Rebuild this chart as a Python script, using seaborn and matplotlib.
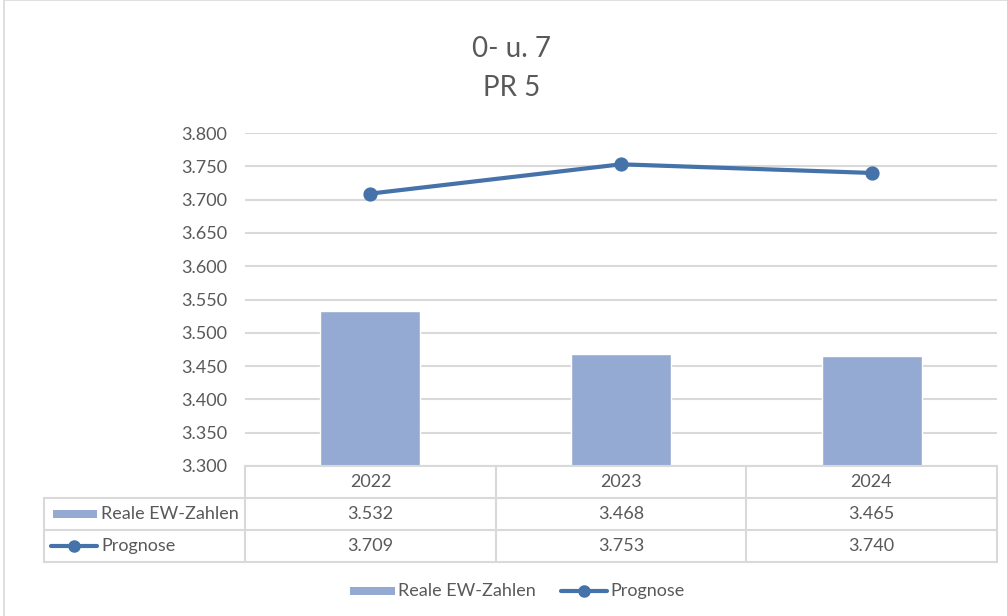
import matplotlib
matplotlib.use("Agg")
import matplotlib.pyplot as plt
import seaborn as sns
import pandas as pd
from matplotlib.lines import Line2D
from matplotlib.patches import Rectangle

# ---- data ----
years = ["2022", "2023", "2024"]
reale = [3532, 3468, 3465]
prognose = [3709, 3753, 3740]
yticks = [3300, 3350, 3400, 3450, 3500, 3550, 3600, 3650, 3700, 3750, 3800]
title_lines = ["0- u. 7", "PR 5"]
series_names = ["Reale EW-Zahlen", "Prognose"]

BAR = "#95AAD3"
LINE = "#4572A9"
TXT = "#595959"
GRID = "#D9D9D9"
FONT = ["Lato", "DejaVu Sans"]
FS = 13

sns.set_theme(style="white")
plt.rcParams["font.family"] = FONT

W, H = 1007, 616
fig = plt.figure(figsize=(W / 100, H / 100), dpi=100)


def fx(x):
    return x / W


def fy(y):
    return 1 - y / H


# chart border
fig.add_artist(Rectangle((fx(4), fy(700)), fx(1100), 700 / H, fill=False,
                         edgecolor=GRID, linewidth=1.2, transform=fig.transFigure))

# plot area
L, R, T, B = 245, 997, 133, 466
ax = fig.add_axes([fx(L), fy(B), fx(R - L), (B - T) / H])

df = pd.DataFrame({"Jahr": years, "Reale": reale, "Prognose": prognose})
sns.barplot(data=df, x="Jahr", y="Reale", ax=ax, color=BAR, width=0.4,
            saturation=1, zorder=2)
sns.pointplot(data=df, x="Jahr", y="Prognose", ax=ax, color=LINE,
              markers="o", markersize=8, linewidth=3, zorder=3)

ax.set_ylim(yticks[0], yticks[-1])
ax.set_xlim(-0.5, 2.5)
ax.set_yticks(yticks)
ax.set_yticklabels([f"{v/1000:.3f}" for v in yticks], color=TXT, fontsize=FS)
ax.tick_params(axis="y", length=0, pad=13)
ax.set_xticks([])
ax.set_xlabel("")
ax.set_ylabel("")
ax.grid(axis="y", color=GRID, linewidth=1.5, zorder=0)
ax.set_axisbelow(True)
for s in ["top", "right", "left"]:
    ax.spines[s].set_visible(False)
ax.spines["bottom"].set_color(GRID)
ax.spines["bottom"].set_linewidth(1.5)

# title
fig.text(fx(512), fy(49), title_lines[0], ha="center", va="center",
         fontsize=20, color=TXT)
fig.text(fx(512), fy(88), title_lines[1], ha="center", va="center",
         fontsize=20, color=TXT)

# ---- data table ----
cols = [245, 496, 746, 997]
rows = [466, 498, 530, 562]
lw = 1.5


def hline(x0, x1, y):
    fig.add_artist(Line2D([fx(x0), fx(x1)], [fy(y), fy(y)], color=GRID,
                          linewidth=lw, transform=fig.transFigure))


def vline(x, y0, y1):
    fig.add_artist(Line2D([fx(x), fx(x)], [fy(y0), fy(y1)], color=GRID,
                          linewidth=lw, transform=fig.transFigure))


for y in rows[1:]:
    hline(44, 997, y)
for x in cols:
    vline(x, 466, 562)
vline(44, 498, 562)

centers = [(cols[i] + cols[i + 1]) / 2 for i in range(3)]
for i, yr in enumerate(years):
    fig.text(fx(centers[i]), fy(482), yr, ha="center", va="center",
             fontsize=FS, color=TXT)
    fig.text(fx(centers[i]), fy(514), f"{reale[i]/1000:.3f}", ha="center",
             va="center", fontsize=FS, color=TXT)
    fig.text(fx(centers[i]), fy(546), f"{prognose[i]/1000:.3f}", ha="center",
             va="center", fontsize=FS, color=TXT)


def bar_key(x0, x1, y):
    fig.add_artist(Rectangle((fx(x0), fy(y + 4)), fx(x1 - x0), 8 / H,
                             facecolor=BAR, edgecolor="none",
                             transform=fig.transFigure))


def line_key(x0, x1, y):
    fig.add_artist(Line2D([fx(x0), fx(x1)], [fy(y), fy(y)], color=LINE,
                          linewidth=3, transform=fig.transFigure))
    fig.add_artist(Line2D([fx((x0 + x1) / 2)], [fy(y)], color=LINE, marker="o",
                          markersize=8, linewidth=0, transform=fig.transFigure))


bar_key(53, 97, 514)
fig.text(fx(101), fy(514), series_names[0], ha="left", va="center",
         fontsize=FS, color=TXT)
line_key(51, 97, 546)
fig.text(fx(101), fy(546), series_names[1], ha="left", va="center",
         fontsize=FS, color=TXT)

# bottom legend
bar_key(350, 395, 591)
fig.text(fx(398), fy(591), series_names[0], ha="left", va="center",
         fontsize=FS, color=TXT)
line_key(561, 607, 591)
fig.text(fx(610), fy(591), series_names[1], ha="left", va="center",
         fontsize=FS, color=TXT)

fig.savefig("out.png", dpi=100, facecolor="white")
